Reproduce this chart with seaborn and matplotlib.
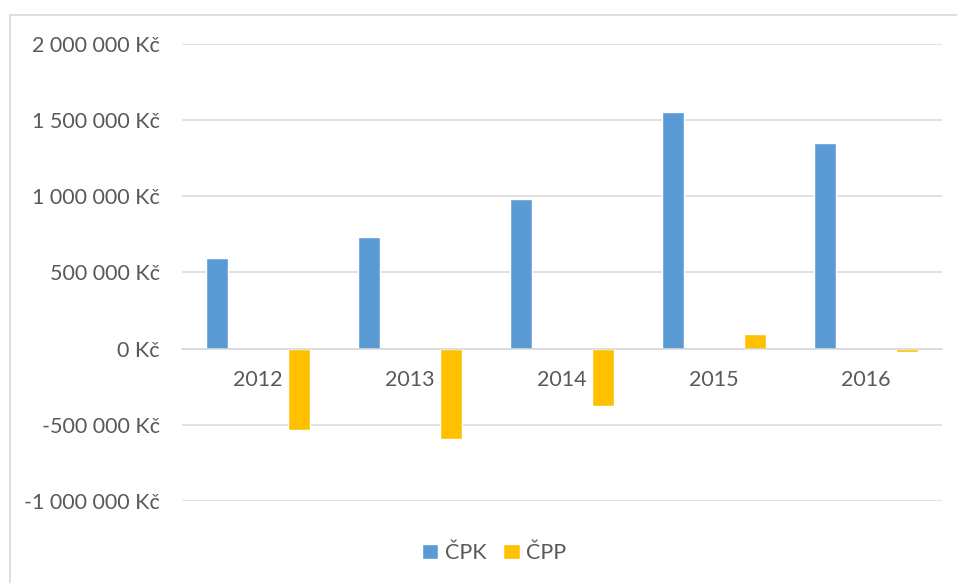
import matplotlib
matplotlib.use("Agg")
import matplotlib.pyplot as plt
from matplotlib.lines import Line2D
from matplotlib.ticker import FuncFormatter, MultipleLocator
import seaborn as sns
import pandas as pd

years = ["2012", "2013", "2014", "2015", "2016"]
cpk = [597000, 732000, 984000, 1552000, 1351000]
cpp = [-535000, -595000, -378000, 95000, -22000]
series_names = ["ČPK", "ČPP"]
colors = ["#5B9BD5", "#FFC000"]

df = pd.DataFrame({
    "year": years * 2,
    "value": cpk + cpp,
    "series": [series_names[0]] * len(years) + [series_names[1]] * len(years),
})

sns.set_theme(style="white")
plt.rcParams["font.family"] = ["Lato", "DejaVu Sans"]
text_color = "#595959"
grid_color = "#D9D9D9"
fs = 15.5

fig = plt.figure(figsize=(9.57, 5.83), dpi=100)
ax = fig.add_axes([182 / 957, 1 - 501 / 583, 760 / 957, 457 / 583])

sns.barplot(data=df, x="year", y="value", hue="series", palette=colors,
            width=1.08, gap=0.73, ax=ax, saturation=1, legend=True)

ax.set_ylim(-1000000, 2000000)
ax.set_xlim(-0.5, len(years) - 0.5)
ax.yaxis.set_major_locator(MultipleLocator(500000))
ax.yaxis.set_major_formatter(FuncFormatter(
    lambda v, p: f"{v:,.0f}".replace(",", " ") + " Kč"))
ax.grid(axis="y", color=grid_color, linewidth=1.1)
ax.set_axisbelow(True)
for s in ["top", "right", "left"]:
    ax.spines[s].set_visible(False)
ax.spines["bottom"].set_position(("data", 0))
ax.spines["bottom"].set_color(grid_color)
ax.spines["bottom"].set_linewidth(1.1)
ax.set_xlabel("")
ax.set_ylabel("")
ax.tick_params(axis="both", length=0, labelsize=fs, labelcolor=text_color)
ax.tick_params(axis="y", pad=16)
ax.tick_params(axis="x", pad=15)

handles, labels = ax.get_legend_handles_labels()
ax.legend_.remove()
fig.legend(handles, labels, loc="center", bbox_to_anchor=(494 / 957, 1 - 553 / 583),
           ncol=2, frameon=False, fontsize=fs, labelcolor=text_color,
           handlelength=0.75, handleheight=0.75, handletextpad=0.3,
           columnspacing=0.8)

fig.add_artist(Line2D([10 / 957, 10 / 957], [0, 1 - 15 / 583], color=grid_color, linewidth=1.2))
fig.add_artist(Line2D([10 / 957, 1], [1 - 15 / 583, 1 - 15 / 583], color=grid_color, linewidth=1.2))

fig.savefig("out.png", dpi=100)
